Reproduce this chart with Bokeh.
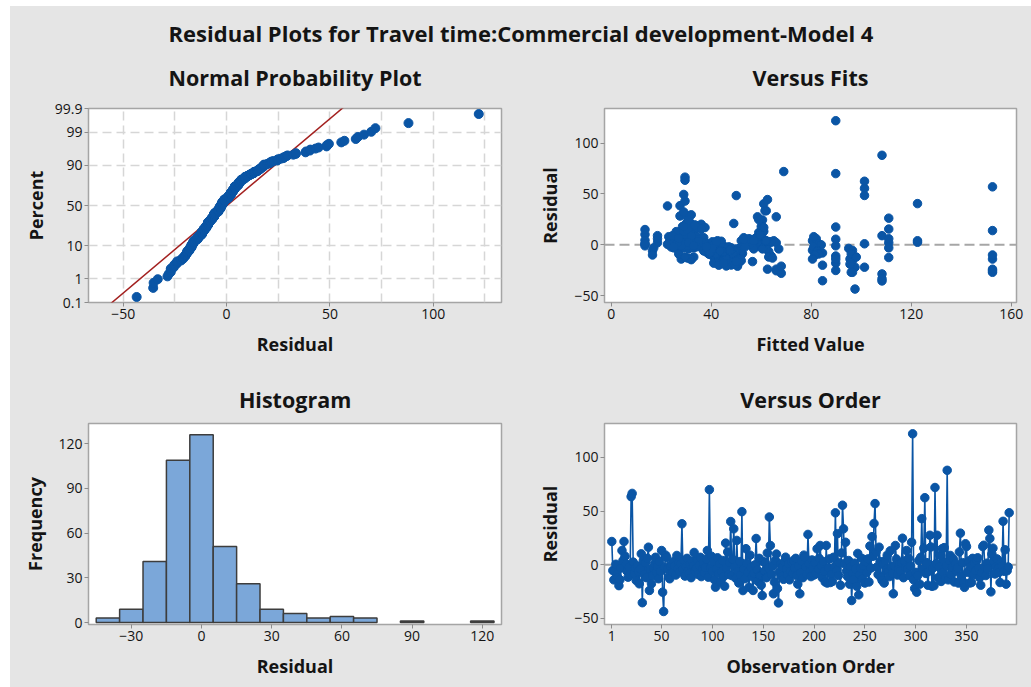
import numpy as np
from statistics import NormalDist
from bokeh.plotting import figure
from bokeh.layouts import column, row
from bokeh.models import FixedTicker, Range1d, Span
from bokeh.core.properties import value
from bokeh.embed import file_html
from bokeh.resources import INLINE

# Residuals in observation order (n = 392)
residuals = [
    21.7, -5.3, -14, -5.5, 0.5, -9, -12, -19.4, -14, -3,
    13.3, 4, 21.7, 8, 1, -6, -11.5, -2, -9, 63.5,
    66.5, 2.5, -8.4, -3, -14.6, -1, -6, -17.7, -4, 10.2,
    -35.3, 4, -9, 2, -12, 6, 16.4, -23.9, -4.5, -17.7,
    -10, -3, 1, 7, -7, -1.5, -13, 3, -6, 13.3,
    -25.5, -43.5, -2.2, 9, 7, -4, -11, -13, -2, 0.5,
    -7, 3, -1, -9.5, 8.7, -3.5, 2, -6.5, 1, 38.2,
    -4, 4, -10.5, -2, 6, -5.5, -8.4, 0, -12, 3.5,
    -1, 11.5, -6, -3, 4.5, -9, -0.5, 7, -11, -4,
    2, -7.5, -2.5, 5.5, 13.3, -11.5, 70, -3, 8, -6,
    3, -14, -20.8, -4, 6.5, -8, 1, -16, -6.5, 4,
    -11, -19.9, 20.2, -3, 12, -9, 2, 40.3, -10, 5,
    33.5, -2, -12.5, 22.7, -6, -17, 3, -9.5, 49.5, -24,
    -4, -13, 15, 1.5, -7, -21, 9, -2.5, -11, -23.9,
    -8, 0, 24.5, -4.8, -15.5, 6, -10, -19, -28.6, 3,
    -6, 2, -12, 11, -3, 44.5, 18, -9, -1, -27,
    -16, 4, 10, -22, -35.5, -7, 0.5, -11, -2, -13.5,
    3, 7.1, -4, -9.5, 1, -14, -6, 2.5, -8, 4,
    -3, 6, -10, -18, -1, -27, -7.5, 3.5, -12, 9,
    7.1, -2, -9, 28.3, 1, -6, -11, 4.5, -3.5, -9.5,
    2, -8, 14.9, -4, 6, 18, -1, -12, 3, -6,
    -16, 18, -17, -3, 5.5, -16.5, -9, -15.5, 7, -2,
    48.4, -5.5, 29, -10, 2, -19, 11, 55.5, 33.5, 1,
    21, -6, -11, 4, -18, -2, -33.3, -8, -14, 1.5,
    -4, -20, 10.6, -28, -9, -3, 6, -13, -1, -17,
    2.5, -7, 5.5, -16, 17.5, -3, 26.2, 8, 38.5, 57,
    12, -2, -9, 16.4, 3, -12, -14.6, 0.5, -17, 4,
    -4.5, 9, -6.5, -11, 13, -2, -8, -27, -1, 18,
    5.5, -9.5, -3, 1, -6, 2, 24.8, -12, 3.5, -2.5,
    13.3, -4, 6, -10, -1, 21, 122, -14, -22, -7,
    -25.5, -10, 4, -18, 7, 43, -4, 15.5, 62.5, -8,
    2, -19, -6, 27.5, 16.6, -20, -3, -19.5, 72, 1,
    27.5, -12, -2, 9, -15.5, 15, -7, 16, -13, -1,
    88, -14, 4, 8.7, -9, -2.5, 5.5, -16, 1, -6,
    -3, -17, 12, 29.5, -11, 2, -16, -21, 19.6, 17,
    -7, 3.5, -17, -1.5, -16.5, 6, -9, 2, -5.5, 4,
    6.5, -3, -12, -19, -7.5, 17, 18.2, -2, -10, 1.5,
    -4, 32.3, 24.5, -25.2, 10, 15.5, 3, -8.5, -2, 5.5,
    -3.5, -7, -16.5, 2.5, -1, 40.5, -6, 14, -18, -5.5,
    -2, 48.5,
]

# Fitted values in the same observation order
fitted = [
    30.5, 80.5, 28, 27, 22.5, 48, 41, 50.5, 43, 33,
    28, 80.5, 31.5, 23, 13.5, 16.5, 46, 36, 39, 29.5,
    29.5, 34, 44, 25, 32, 56, 38, 49, 31, 13.5,
    84.5, 52, 42, 35, 45.5, 82, 33, 62.5, 40, 51,
    44.5, 27.5, 83, 37, 49.5, 58, 30.5, 30, 46.5, 31,
    66, 97.5, 24, 29, 53, 41.5, 64, 47, 81, 36.5,
    43.5, 63, 26, 39.5, 32, 44, 55, 63, 28.5, 22.5,
    50, 23.5, 45, 60, 34.5, 38.5, 52.5, 84, 48, 27,
    13.5, 30, 82.5, 42, 13.5, 46, 59, 33.5, 44.5, 40.5,
    18.5, 49, 37.5, 25.5, 61, 47.5, 89.8, 29, 81, 43,
    35.5, 95.5, 46, 57, 31.5, 84.5, 24.5, 50, 41, 65,
    45.5, 48, 36, 17, 28, 83, 66, 61, 52, 33,
    62, 44, 111, 30.5, 49.5, 43.5, 58.5, 40, 29, 152.5,
    26.5, 47, 13.5, 37, 42, 50.5, 60, 32.5, 46, 66,
    39.5, 53.5, 60.5, 45, 96.5, 27, 81.5, 48.5, 108.3, 35,
    44, 63.5, 33, 31, 40, 62.5, 28.5, 42.5, 89.8, 152.5,
    51.5, 34, 59.5, 97.5, 108.3, 38, 55.5, 45, 30, 31.5,
    64, 25, 46.5, 43, 36.5, 80.5, 52, 29.5, 39, 57.5,
    48, 32, 16.5, 89.8, 44.5, 96, 41.5, 27.5, 50, 108.3,
    34.5, 45.5, 48, 27.5, 13.5, 37, 43, 61.5, 95, 46,
    30, 44, 33.5, 62, 18.5, 60.5, 38.5, 47.5, 25.5, 42,
    49.5, 31.5, 45, 40, 89.8, 56.5, 43.5, 44, 36, 47,
    50, 96.5, 30, 46, 53, 95.5, 28, 101.3, 61.5, 39.5,
    49, 48.5, 89.8, 42.5, 41, 35.5, 108.3, 44.5, 50.5, 27,
    67, 84.5, 29.5, 68, 96, 46.5, 57.5, 43, 32, 48,
    37.5, 45, 24, 47, 89.8, 51.5, 111, 34, 27.5, 152.5,
    59, 43, 27, 31, 40.5, 98, 44, 36, 49, 62,
    45.5, 18.5, 39, 48.5, 26, 53.5, 42, 96.5, 30.5, 60,
    35, 46, 41.5, 101.3, 50, 28, 59, 63, 44, 38,
    29, 60.5, 55, 43.5, 36.5, 30, 89.8, 89.8, 101.3, 49.5,
    152.5, 44, 33, 48, 58, 29.5, 40, 111, 101.3, 46,
    111, 50, 42.5, 58.5, 34.5, 43, 111, 46.5, 69, 37,
    66, 47, 39, 24.5, 52, 30.5, 43, 36, 64.5, 28,
    108.3, 152.5, 122.5, 32, 45, 41, 55.5, 49, 23, 44,
    38.5, 47.5, 60.5, 32, 46, 26.5, 51, 68, 33.5, 37.5,
    43.5, 35, 48, 40, 49, 111, 42, 31, 45.5, 57,
    27, 44.5, 29.5, 49.5, 39.5, 61, 29, 34, 152.5, 41.5,
    46, 29, 31, 89.8, 59.5, 36, 42, 48.5, 25, 53,
    40.5, 45, 50, 122.5, 33, 122.5, 43.5, 152.5, 45, 47.5,
    38, 101.3,
]

# Histogram bins: width 10, centred on multiples of 10
hist_edges = list(range(-45, 126, 10))

percent_ticks = [0.1, 1, 10, 50, 90, 99, 99.9]
percent_labels = ["0.1", "1", "10", "50", "90", "99", "99.9"]
npp_x_ticks = [-50, 0, 50, 100]
npp_x_grid = [-50, -25, 0, 25, 50, 75, 100, 125]
fits_x_ticks = [0, 40, 80, 120, 160]
resid_y_ticks = [-50, 0, 50, 100]
hist_x_ticks = [-30, 0, 30, 60, 90, 120]
hist_y_ticks = [0, 30, 60, 90, 120]
order_x_ticks = [1, 50, 100, 150, 200, 250, 300, 350]

main_title = "Residual Plots for Travel time:Commercial development-Model 4"
panel_titles = ["Normal Probability Plot", "Versus Fits", "Histogram", "Versus Order"]

BLUE = "#0a55a5"
BAR = "#7ba7d9"
BAR_EDGE = "#3d3d3d"
FIT_LINE = "#a3201f"
GRAY = "#e5e5e5"
FRAME = "#a5a5a5"
TEXT = "#141414"
FONT = "Open Sans"

res = np.array(residuals, dtype=float)
fit = np.array(fitted, dtype=float)
n = len(res)
obs = np.arange(1, n + 1)

nd = NormalDist()
res_sorted = np.sort(res)
z_sorted = np.array([nd.inv_cdf((i - 0.3) / (n + 0.4)) for i in range(1, n + 1)])
mu = res.mean()
sd = res.std(ddof=1)
z_ticks = [round(nd.inv_cdf(p / 100.0), 6) for p in percent_ticks]


def text_fig(width, height, x, y, txt, size):
    f = figure(width=width, height=height, x_range=Range1d(0, 1), y_range=Range1d(0, 1),
               x_axis_location=None, y_axis_location=None, min_border=0, title=None,
               toolbar_location=None, output_backend="svg")
    f.grid.visible = False
    f.outline_line_color = None
    f.background_fill_color = GRAY
    f.border_fill_color = GRAY
    f.text(x=[x], y=[y], text=[txt], text_align="center", text_baseline="middle",
           text_font=value(FONT), text_font_style="bold", text_font_size=size,
           text_color=TEXT)
    return f


def make_fig(width, height, left, right, top, bottom, xr, yr):
    p = figure(width=width, height=height,
               frame_width=width - left - right, frame_height=height - top - bottom,
               min_border_left=left, min_border_right=right,
               min_border_top=top, min_border_bottom=bottom,
               x_range=xr, y_range=yr, title=None,
               toolbar_location=None, output_backend="svg")
    p.border_fill_color = GRAY
    p.background_fill_color = "white"
    p.outline_line_color = FRAME
    p.outline_line_width = 1.5
    for ax in (p.xaxis[0], p.yaxis[0]):
        ax.axis_line_color = None
        ax.major_tick_line_color = "#8c8c8c"
        ax.major_tick_out = 4
        ax.major_tick_in = 0
        ax.minor_tick_line_color = None
        ax.major_label_standoff = 2
        ax.major_label_text_font = FONT
        ax.major_label_text_font_size = "14px"
        ax.major_label_text_color = TEXT
        ax.axis_label_text_font = FONT
        ax.axis_label_text_font_size = "18px"
        ax.axis_label_text_font_style = "bold"
        ax.axis_label_text_color = TEXT
    p.grid.visible = False
    return p


def zero_line(p):
    s = Span(location=0, dimension="width", line_color="#a6a6a6",
             line_dash="10 5", line_width=2, level="underlay")
    p.add_layout(s)


# Normal probability plot
p1 = make_fig(510, 270, 78, 19, 8, 68,
              Range1d(-66.8, 133), Range1d(z_ticks[0], z_ticks[-1]))
p1.grid.visible = True
p1.xgrid.ticker = FixedTicker(ticks=npp_x_grid)
p1.ygrid.ticker = FixedTicker(ticks=z_ticks[1:-1])
p1.grid.grid_line_color = "#d6d6d6"
p1.grid.grid_line_dash = "9 5"
p1.grid.grid_line_width = 1.5
p1.xaxis.ticker = FixedTicker(ticks=npp_x_ticks)
p1.yaxis.ticker = FixedTicker(ticks=z_ticks)
p1.yaxis.major_label_overrides = {z: lab for z, lab in zip(z_ticks, percent_labels)}
p1.xaxis.axis_label = "Residual"
p1.yaxis.axis_label = "Percent"
p1.xaxis.axis_label_standoff = 10
p1.yaxis.axis_label_standoff = 4
zl = np.array([-3.4, 3.4])
p1.line(mu + sd * zl, zl, line_color=FIT_LINE, line_width=1.5)
p1.scatter(res_sorted, z_sorted, size=9, fill_color=BLUE, line_color=BLUE)

# Residuals versus fitted values
p2 = make_fig(511, 270, 84, 15, 8, 68,
              Range1d(-2.7, 162.1), Range1d(-56.7, 134))
p2.xaxis.ticker = FixedTicker(ticks=fits_x_ticks)
p2.yaxis.ticker = FixedTicker(ticks=resid_y_ticks)
p2.xaxis.axis_label = "Fitted Value"
p2.yaxis.axis_label = "Residual"
p2.xaxis.axis_label_standoff = 10
p2.yaxis.axis_label_standoff = 9
zero_line(p2)
p2.scatter(fit, res, size=8.5, fill_color=BLUE, line_color=BLUE)

# Histogram of residuals
p3 = make_fig(510, 272, 78, 19, 8, 63,
              Range1d(-48.3, 128.2), Range1d(-1.3, 133.6))
counts, edges = np.histogram(res, bins=hist_edges)
keep = counts > 0
p3.quad(left=edges[:-1][keep], right=edges[1:][keep], bottom=0, top=counts[keep],
        fill_color=BAR, line_color=BAR_EDGE, line_width=1.5)
p3.xaxis.ticker = FixedTicker(ticks=hist_x_ticks)
p3.yaxis.ticker = FixedTicker(ticks=hist_y_ticks)
p3.xaxis.axis_label = "Residual"
p3.yaxis.axis_label = "Frequency"
p3.xaxis.axis_label_standoff = 10
p3.yaxis.axis_label_standoff = 8

# Residuals versus observation order
p4 = make_fig(511, 272, 84, 15, 8, 63,
              Range1d(-6.2, 399.2), Range1d(-55.6, 131.6))
p4.xaxis.ticker = FixedTicker(ticks=order_x_ticks)
p4.yaxis.ticker = FixedTicker(ticks=resid_y_ticks)
p4.xaxis.axis_label = "Observation Order"
p4.yaxis.axis_label = "Residual"
p4.xaxis.axis_label_standoff = 10
p4.yaxis.axis_label_standoff = 9
zero_line(p4)
p4.line(obs, res, line_color=BLUE, line_width=1.6)
p4.scatter(obs, res, size=8.5, fill_color=BLUE, line_color=BLUE)

# Headings: overall title and one above each panel, centred over the frames
head = text_fig(1021, 49, 0.5, 0.45, main_title, "22px")
t1 = text_fig(510, 45, 0.558, 0.511, panel_titles[0], "21.5px")
t2 = text_fig(511, 45, 0.5675, 0.511, panel_titles[1], "21.5px")
t3 = text_fig(510, 45, 0.558, 0.356, panel_titles[2], "21.5px")
t4 = text_fig(511, 45, 0.5675, 0.356, panel_titles[3], "21.5px")

bg = {"background-color": GRAY}
layout = column(head,
                row(t1, t2, spacing=0, styles=bg),
                row(p1, p2, spacing=0, styles=bg),
                row(t3, t4, spacing=0, styles=bg),
                row(p3, p4, spacing=0, styles=bg),
                spacing=0, margin=(6, 0, 0, 10), styles=bg)

with open("out.html", "w") as f:
    f.write(file_html(layout, INLINE))
